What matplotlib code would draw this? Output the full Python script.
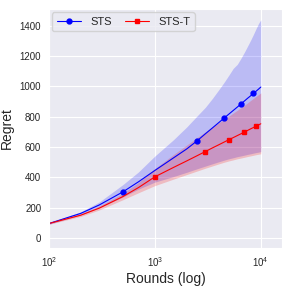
import matplotlib
matplotlib.use('Agg')
import matplotlib.pyplot as plt
import seaborn as sns
import numpy as np

sns.set_style('darkgrid')
plt.rcParams['font.family'] = ['Liberation Sans', 'DejaVu Sans']

# rounds on the x axis
rounds = [100, 200, 300, 500, 700, 1000, 1500, 2000, 2500, 3000, 3500, 4000, 4500,
          5000, 5500, 6000, 6500, 7000, 7500, 8000, 8500, 9000, 9500, 10000]

# STS mean regret and band
sts_mean = [95, 162, 218, 304, 370, 445, 528, 587, 640, 687, 726, 760, 790,
            817, 841, 863, 884, 903, 921, 937, 953, 967, 981, 995]
sts_low = [90, 152, 200, 270, 322, 368, 405, 433, 456, 474, 489, 502, 513,
           522, 529, 536, 541, 546, 551, 555, 559, 563, 566, 569]
sts_high = [100, 172, 238, 352, 435, 540, 648, 732, 804, 862, 921, 976, 1026,
            1074, 1119, 1145, 1185, 1225, 1265, 1303, 1341, 1379, 1413, 1439]

# STS-T mean regret and band
stst_mean = [95, 150, 197, 273, 332, 403, 465, 508, 542, 570, 594, 614, 632,
             648, 662, 675, 687, 698, 709, 719, 728, 737, 745, 753]
stst_low = [90, 142, 185, 252, 298, 345, 388, 418, 441, 460, 475, 488, 499,
            508, 515, 522, 527, 532, 537, 541, 545, 549, 552, 555]
stst_high = [100, 158, 210, 294, 365, 458, 550, 613, 662, 700, 732, 759, 782,
             804, 824, 842, 859, 875, 891, 906, 920, 933, 945, 957]

# rounds where markers are drawn
sts_marks = [500, 2500, 4500, 6500, 8500]
stst_marks = [1000, 3000, 5000, 7000, 9000]

fig = plt.figure(figsize=(2.91, 2.91), dpi=100)
ax = fig.add_axes([0.168, 0.148, 0.801, 0.821])

ax.fill_between(rounds, sts_low, sts_high, color='blue', alpha=0.2, linewidth=0)
ax.fill_between(rounds, stst_low, stst_high, color='red', alpha=0.2, linewidth=0)
ax.plot(rounds, sts_mean, color='blue', linewidth=0.8, marker='o', markersize=3.5,
        markevery=[rounds.index(r) for r in sts_marks], label='STS')
ax.plot(rounds, stst_mean, color='red', linewidth=0.8, marker='s', markersize=3.5,
        markevery=[rounds.index(r) for r in stst_marks], label='STS-T')

ax.set_xscale('log')
ax.set_xlim(100, 10 ** 4.2)
ax.set_ylim(-66, 1510)
ax.set_yticks(np.arange(0, 1401, 200))
ax.minorticks_off()
ax.tick_params(labelsize=7, pad=2)
ax.set_xlabel('Rounds (log)', fontsize=10, labelpad=2)
ax.set_ylabel('Regret', fontsize=10, labelpad=4)
ax.legend(loc='upper left', ncol=2, fontsize=8, handlelength=2.2, columnspacing=1.2,
          borderpad=0.4, borderaxespad=0.3)

fig.savefig('out.png', dpi=100)
